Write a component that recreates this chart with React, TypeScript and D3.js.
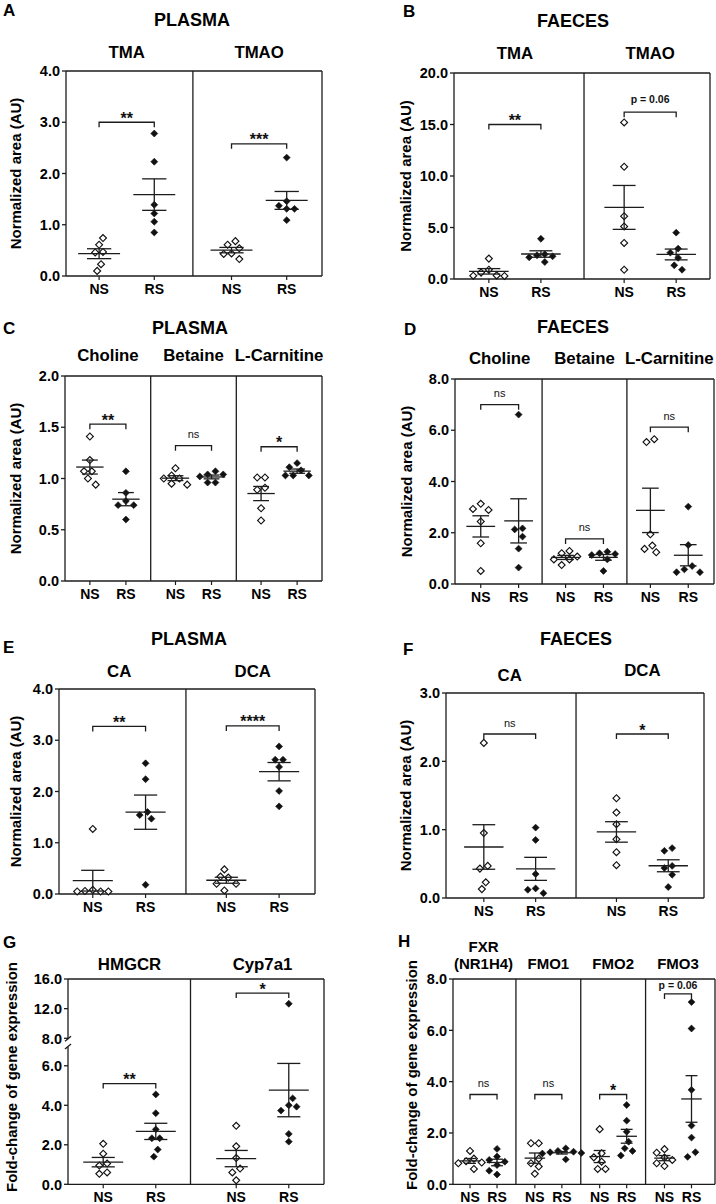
import React from "react";
import * as d3 from "d3";

const FONT = "'Liberation Sans', Arial, Helvetica, sans-serif";

// ---------- DATA ----------
// A: plasma TMA / TMAO
const A_TMA_NS = [0.74, 0.61, 0.47, 0.46, 0.23, 0.1];
const A_TMA_RS = [2.78, 2.23, 1.39, 1.22, 1.06, 0.85];
const A_TMAO_NS = [0.68, 0.61, 0.54, 0.44, 0.43, 0.33];
const A_TMAO_RS = [2.31, 1.46, 1.37, 1.31, 1.31, 1.09];
const A_BRACKETS = [3.0, 2.58];
const A_SIG = ["**", "***"];
const A_TICKS = [0, 1, 2, 3, 4];

// B: faeces TMA / TMAO
const B_TMA_NS = [1.98, 0.9, 0.62, 0.35, 0.3, 0.32];
const B_TMA_RS = [3.9, 2.4, 2.3, 2.2, 2.1, 1.65];
const B_TMAO_NS = [15.2, 10.9, 6.1, 5.1, 3.5, 0.9];
const B_TMAO_RS = [4.5, 2.95, 2.56, 2.05, 1.33, 0.9];
const B_BRACKETS = [15.0, 16.2];
const B_SIG = ["**", "p = 0.06"];
const B_TICKS = [0, 5, 10, 15, 20];

// C: plasma choline / betaine / L-carnitine
const C_CHOL_NS = [1.41, 1.18, 1.07, 1.07, 1.0, 0.94];
const C_CHOL_RS = [1.07, 0.86, 0.78, 0.74, 0.74, 0.6];
const C_BET_NS = [1.1, 1.03, 1.0, 1.0, 0.95, 0.94];
const C_BET_RS = [1.07, 1.04, 1.04, 1.02, 0.96, 0.96];
const C_CARN_NS = [1.01, 1.01, 0.91, 0.89, 0.71, 0.59];
const C_CARN_RS = [1.15, 1.11, 1.08, 1.03, 1.03, 1.03];
const C_BRACKETS = [1.53, 1.32, 1.31];
const C_SIG = ["**", "ns", "*"];
const C_TICKS = [0, 0.5, 1, 1.5, 2];

// D: faeces choline / betaine / L-carnitine
const D_CHOL_NS = [3.13, 2.93, 2.89, 2.44, 1.59, 0.51];
const D_CHOL_RS = [6.61, 2.17, 2.13, 1.85, 1.38, 0.64];
const D_BET_NS = [1.29, 1.2, 1.07, 0.96, 0.96, 0.74];
const D_BET_RS = [1.26, 1.2, 1.17, 1.13, 0.96, 0.51];
const D_CARN_NS = [5.65, 5.54, 1.94, 1.5, 1.37, 1.24];
const D_CARN_RS = [3.02, 1.52, 0.7, 0.57, 0.46, 0.46];
const D_BRACKETS = [7.0, 1.76, 6.12];
const D_SIG = ["ns", "ns", "ns"];
const D_TICKS = [0, 2, 4, 6, 8];

// E: plasma CA / DCA
const E_CA_NS = [1.27, 0.08, 0.06, 0.05, 0.05, 0.05];
const E_CA_RS = [2.55, 2.24, 1.6, 1.54, 1.47, 0.18];
const E_DCA_NS = [0.48, 0.34, 0.32, 0.2, 0.2, 0.07];
const E_DCA_RS = [2.88, 2.62, 2.62, 2.48, 2.01, 1.71];
const E_BRACKETS = [3.27, 3.28];
const E_SIG = ["**", "****"];
const E_TICKS = [0, 1, 2, 3, 4];

// F: faeces CA / DCA
const F_CA_NS = [2.27, 0.95, 0.47, 0.43, 0.23, 0.13];
const F_CA_RS = [1.03, 0.85, 0.35, 0.14, 0.12, 0.07];
const F_DCA_NS = [1.46, 1.25, 1.08, 0.86, 0.67, 0.48];
const F_DCA_RS = [0.73, 0.69, 0.47, 0.44, 0.34, 0.16];
const F_BRACKETS = [2.4, 2.4];
const F_SIG = ["ns", "*"];
const F_TICKS = [0, 1, 2, 3];

// G: gene expression HMGCR / Cyp7a1
const G_HMGCR_NS = [2.05, 1.55, 1.05, 0.95, 0.6, 0.53];
const G_HMGCR_RS = [4.55, 3.6, 2.78, 2.33, 2.33, 1.76, 1.4];
const G_CYP_NS = [2.96, 1.92, 1.33, 0.8, 0.6, 0.2];
const G_CYP_RS = [12.66, 4.35, 4.0, 3.93, 3.73, 2.55, 2.16];
const G_BRACKETS = [5.1, 14.1];
const G_SIG = ["**", "*"];
const G_TICKS = [0, 2, 4, 6, 8, 12, 16];

// H: gene expression FXR / FMO1 / FMO2 / FMO3
const H_FXR_NS = [1.3, 1.0, 0.9, 0.85, 0.82, 0.6];
const H_FXR_RS = [1.38, 1.08, 0.95, 0.88, 0.75, 0.53, 0.38];
const H_FMO1_NS = [1.6, 1.6, 1.0, 0.82, 0.69, 0.41];
const H_FMO1_RS = [1.4, 1.3, 1.27, 1.25, 1.22, 1.2, 0.97];
const H_FMO2_NS = [2.15, 1.21, 1.05, 0.88, 0.6, 0.6];
const H_FMO2_RS = [3.09, 2.48, 2.05, 1.66, 1.4, 1.3, 1.12];
const H_FMO3_NS = [1.37, 1.23, 1.04, 0.95, 0.82, 0.71];
const H_FMO3_RS = [7.1, 6.07, 3.68, 2.29, 1.82, 1.25, 1.07];
const H_BRACKETS = [3.5, 3.5, 3.5, 7.42];
const H_SIG = ["ns", "ns", "*", "p = 0.06"];
const H_TICKS = [0, 2, 4, 6, 8];

const GROUP_LABELS = ["NS", "RS"];

// ---------- TYPES ----------
type Group = { name: string[]; ns: number[]; rs: number[]; bracket: number; sig: string; nameDy?: number };
type PanelCfg = {
  letter: string; letterX: number; letterY: number;
  title?: string; titleX?: number; titleY?: number;
  left: number; right: number; top: number; bottom: number;
  padL: number; padR: number; gap: number; divShift?: number;
  yDomain: number[]; yBreak?: number[]; ticks: number[];
  ylabel: string; ylabelX: number; ylabelY?: number;
  subBase: number; subSize?: number; pDy?: number;
  groups: Group[];
};

const mk = (names: string[][], ns: number[][], rs: number[][], br: number[], sig: string[]): Group[] =>
  names.map((n, i) => ({ name: n, ns: ns[i], rs: rs[i], bracket: br[i], sig: sig[i] }));

const YL1 = "Normalized area (AU)";
const YL2 = "Fold-change of gene expression";

const panels: PanelCfg[] = [
  {
    letter: "A", letterX: 3, letterY: 16, title: "PLASMA", titleX: 192, titleY: 25.5,
    left: 66, right: 322, top: 71, bottom: 276, padL: 0.6, padR: 0.64, gap: 1.4,
    yDomain: [0, 4], ticks: A_TICKS, ylabel: YL1, ylabelX: 21, subBase: 57.5,
    groups: mk([["TMA"], ["TMAO"]], [A_TMA_NS, A_TMAO_NS], [A_TMA_RS, A_TMAO_RS], A_BRACKETS, A_SIG),
  },
  {
    letter: "B", letterX: 403, letterY: 17, title: "FAECES", titleX: 573, titleY: 26.5,
    left: 454, right: 710, top: 73, bottom: 279, padL: 0.67, padR: 0.65, gap: 1.6, divShift: 1.5,
    yDomain: [0, 20], ticks: B_TICKS, ylabel: YL1, ylabelX: 411, subBase: 59, pDy: -9,
    groups: mk([["TMA"], ["TMAO"]], [B_TMA_NS, B_TMAO_NS], [B_TMA_RS, B_TMAO_RS], B_BRACKETS, B_SIG),
  },
  {
    letter: "C", letterX: 3, letterY: 334, title: "PLASMA", titleX: 190, titleY: 333.5,
    left: 65, right: 322, top: 376, bottom: 581, padL: 0.69, padR: 0.69, gap: 1.375,
    yDomain: [0, 2], ticks: C_TICKS, ylabel: YL1, ylabelX: 21, subBase: 361,
    groups: mk([["Choline"], ["Betaine"], ["L-Carnitine"]], [C_CHOL_NS, C_BET_NS, C_CARN_NS], [C_CHOL_RS, C_BET_RS, C_CARN_RS], C_BRACKETS, C_SIG),
  },
  {
    letter: "D", letterX: 404, letterY: 335, title: "FAECES", titleX: 573, titleY: 332.5,
    left: 455, right: 714, top: 379, bottom: 584, padL: 0.68, padR: 0.68, gap: 1.24,
    yDomain: [0, 8], ticks: D_TICKS, ylabel: YL1, ylabelX: 412, subBase: 364,
    groups: mk([["Choline"], ["Betaine"], ["L-Carnitine"]], [D_CHOL_NS, D_BET_NS, D_CARN_NS], [D_CHOL_RS, D_BET_RS, D_CARN_RS], D_BRACKETS, D_SIG),
  },
  {
    letter: "E", letterX: 3, letterY: 653, title: "PLASMA", titleX: 189, titleY: 644.5,
    left: 59, right: 315, top: 689, bottom: 894, padL: 0.64, padR: 0.68, gap: 1.53,
    yDomain: [0, 4], ticks: E_TICKS, ylabel: YL1, ylabelX: 21, subBase: 676.5,
    groups: mk([["CA"], ["DCA"]], [E_CA_NS, E_DCA_NS], [E_CA_RS, E_DCA_RS], E_BRACKETS, E_SIG),
  },
  {
    letter: "F", letterX: 403, letterY: 655, title: "FAECES", titleX: 576, titleY: 644.5,
    left: 446, right: 704, top: 693, bottom: 898, padL: 0.73, padR: 0.69, gap: 1.56,
    yDomain: [0, 3], ticks: F_TICKS, ylabel: YL1, ylabelX: 411, subBase: 681,
    groups: mk([["CA"], ["DCA"]], [F_CA_NS, F_DCA_NS], [F_CA_RS, F_DCA_RS], F_BRACKETS, F_SIG).map((g, i) =>
      i === 1 ? { ...g, nameDy: -5 } : g),
  },
  {
    letter: "G", letterX: 3, letterY: 948,
    left: 68, right: 324, top: 979, bottom: 1184.3, padL: 0.67, padR: 0.67, gap: 1.53, divShift: -5.5,
    yDomain: [0, 6.9, 8, 16], yBreak: [1048, 1038.3], ticks: G_TICKS,
    ylabel: YL2, ylabelX: 17, ylabelY: 1077, subBase: 970,
    groups: mk([["HMGCR"], ["Cyp7a1"]], [G_HMGCR_NS, G_CYP_NS], [G_HMGCR_RS, G_CYP_RS], G_BRACKETS, G_SIG),
  },
  {
    letter: "H", letterX: 398, letterY: 947,
    left: 453, right: 715, top: 979, bottom: 1184.3, padL: 0.63, padR: 0.87, gap: 1.4,
    yDomain: [0, 8], ticks: H_TICKS, ylabel: YL2, ylabelX: 417, ylabelY: 1075,
    subBase: 968.5, subSize: 15, pDy: -4.5,
    groups: mk([["FXR", "(NR1H4)"], ["FMO1"], ["FMO2"], ["FMO3"]],
      [H_FXR_NS, H_FMO1_NS, H_FMO2_NS, H_FMO3_NS], [H_FXR_RS, H_FMO1_RS, H_FMO2_RS, H_FMO3_RS], H_BRACKETS, H_SIG),
  },
];

// ---------- HELPERS ----------
function jitter(ys: number[], h: number, thr: number): number[] {
  const order = ys.map((_, i) => i).sort((a, b) => ys[a] - ys[b]);
  const xs = new Array(ys.length).fill(0);
  const placed: number[] = [];
  for (const i of order) {
    const cands = [0];
    for (let k = 1; k < 14; k++) cands.push(-k * h, k * h);
    for (const c of cands) {
      let ok = true;
      for (const j of placed) {
        const dx = xs[j] - c, dy = ys[j] - ys[i];
        if (dx * dx + dy * dy < thr * thr) { ok = false; break; }
      }
      if (ok) { xs[i] = c; break; }
    }
    placed.push(i);
  }
  const comp = new Array(ys.length).fill(-1);
  let cid = 0;
  for (const i of order) {
    if (comp[i] >= 0) continue;
    const stack = [i];
    comp[i] = cid;
    while (stack.length) {
      const a = stack.pop()!;
      for (let b = 0; b < ys.length; b++)
        if (comp[b] < 0 && Math.abs(ys[b] - ys[a]) < thr) { comp[b] = cid; stack.push(b); }
    }
    cid++;
  }
  for (let c = 0; c < cid; c++) {
    const mem = xs.map((_, i) => i).filter((i) => comp[i] === c);
    const mn = d3.min(mem, (i) => xs[i])!, mx = d3.max(mem, (i) => xs[i])!;
    const shift = (mn + mx) / 2;
    mem.forEach((i) => (xs[i] -= shift));
  }
  return xs;
}

const INK = "#111";
const LINE = "#1c1c1c";
const fmt = d3.format(".1f");
const markerPath = d3.symbol(d3.symbolSquare, 24)()!;

function Panel({ p }: { p: PanelCfg }) {
  const n = p.groups.length;
  const x = d3.scaleLinear().domain([-p.padL, (n - 1) * (1 + p.gap) + 1 + p.padR]).range([p.left, p.right]);
  const yRange = p.yBreak ? [p.bottom, p.yBreak[0], p.yBreak[1], p.top] : [p.bottom, p.top];
  const y = d3.scaleLinear().domain(p.yDomain).range(yRange);
  const spacing = x(1) - x(0);
  const meanHalf = spacing * 0.38;
  const semHalf = spacing * 0.22;
  const ylY = p.ylabelY ?? (p.top + p.bottom) / 2;
  const subSize = p.subSize ?? 16.8;

  const elems: React.ReactNode[] = [];

  p.groups.forEach((g, gi) => {
    const base = gi * (1 + p.gap);
    const cx = (x(base) + x(base + 1)) / 2;
    g.name.forEach((line, li) => {
      elems.push(
        <text key={`sub${gi}-${li}`} x={cx} y={p.subBase + (g.nameDy ?? 0) - (g.name.length - 1 - li) * 17}
          textAnchor="middle" fontSize={subSize} fontWeight="bold" fill="#000">{line}</text>
      );
    });
    [g.ns, g.rs].forEach((vals, k) => {
      const gx = x(base + k);
      const ys = vals.map((v) => y(v));
      const jx = jitter(ys, 3.9, 7.5);
      vals.forEach((v, i) => {
        elems.push(
          <path key={`pt${gi}-${k}-${i}`} d={markerPath}
            transform={`translate(${gx + jx[i]},${ys[i]}) rotate(45)`}
            fill={k === 0 ? "#fff" : INK} stroke={INK} strokeWidth={k === 0 ? 1.15 : 0.6} />
        );
      });
      const m = d3.mean(vals)!;
      const sem = d3.deviation(vals)! / Math.sqrt(vals.length);
      elems.push(
        <g key={`ms${gi}-${k}`} stroke={LINE} strokeWidth={1.3} fill="none">
          <line x1={gx - meanHalf} x2={gx + meanHalf} y1={y(m)} y2={y(m)} />
          <line x1={gx} x2={gx} y1={y(m - sem)} y2={y(m + sem)} />
          <line x1={gx - semHalf} x2={gx + semHalf} y1={y(m + sem)} y2={y(m + sem)} />
          <line x1={gx - semHalf} x2={gx + semHalf} y1={y(m - sem)} y2={y(m - sem)} />
        </g>
      );
      elems.push(
        <line key={`xt${gi}-${k}`} x1={gx} x2={gx} y1={p.bottom} y2={p.bottom + 4} stroke={LINE} strokeWidth={1.2} />
      );
      elems.push(
        <text key={`xl${gi}-${k}`} x={gx} y={p.bottom + 17.5} textAnchor="middle" fontSize={14} fontWeight="bold" fill="#000">
          {GROUP_LABELS[k]}
        </text>
      );
    });
    const bx1 = x(base), bx2 = x(base + 1), by = y(g.bracket);
    elems.push(
      <path key={`br${gi}`} d={`M${bx1},${by + 5}V${by}H${bx2}V${by + 5}`} stroke={LINE} strokeWidth={1.3} fill="none" />
    );
    const sigX = (bx1 + bx2) / 2;
    if (g.sig.startsWith("*")) {
      elems.push(<text key={`sg${gi}`} x={sigX} y={by + 1.5} textAnchor="middle" fontSize={16} fontWeight="bold" fill="#111">{g.sig}</text>);
    } else if (g.sig === "ns") {
      elems.push(<text key={`sg${gi}`} x={sigX} y={by - 7.5} textAnchor="middle" fontSize={11} fill="#111">{g.sig}</text>);
    } else {
      elems.push(<text key={`sg${gi}`} x={sigX} y={by + (p.pDy ?? -8)} textAnchor="middle" fontSize={10.5} fontWeight="bold" fill="#111">{g.sig}</text>);
    }
    if (gi < n - 1) {
      const dx = x(base + 1 + p.gap / 2) + (p.divShift ?? 0);
      elems.push(<line key={`dv${gi}`} x1={dx} x2={dx} y1={p.top} y2={p.bottom} stroke={LINE} strokeWidth={1.3} />);
    }
  });

  return (
    <g fontFamily={FONT}>
      <text x={p.letterX} y={p.letterY} fontSize={17} fontWeight="bold" fill="#000">{p.letter}</text>
      {p.title && (
        <text x={p.titleX} y={p.titleY} textAnchor="middle" fontSize={18} fontWeight="bold" fill="#000">{p.title}</text>
      )}
      <text transform={`translate(${p.ylabelX},${ylY}) rotate(-90)`} textAnchor="middle" fontSize={15} fontWeight="bold" fill="#000">
        {p.ylabel}
      </text>
      <g stroke={LINE} strokeWidth={1.3} fill="none">
        <line x1={p.left} x2={p.right} y1={p.top} y2={p.top} />
        <line x1={p.right} x2={p.right} y1={p.top} y2={p.bottom} />
        <line x1={p.left} x2={p.right} y1={p.bottom} y2={p.bottom} />
        {p.yBreak ? (
          <>
            <line x1={p.left} x2={p.left} y1={p.top} y2={p.yBreak[1] + 1} />
            <line x1={p.left} x2={p.left} y1={p.yBreak[0] - 1} y2={p.bottom} />
            <line x1={p.left - 3} x2={p.left + 3} y1={p.yBreak[1] + 3} y2={p.yBreak[1] - 2} />
            <line x1={p.left - 3} x2={p.left + 3} y1={p.yBreak[0] + 1} y2={p.yBreak[0] - 4} />
          </>
        ) : (
          <line x1={p.left} x2={p.left} y1={p.top} y2={p.bottom} />
        )}
      </g>
      {p.ticks.map((t) => (
        <g key={`yt${t}`}>
          <line x1={p.left - 4} x2={p.left} y1={y(t)} y2={y(t)} stroke={LINE} strokeWidth={1.3} />
          <text x={p.left - 6} y={y(t)} dy="0.36em" textAnchor="end" fontSize={14.5} fontWeight="bold" fill="#000">{fmt(t)}</text>
        </g>
      ))}
      {elems}
    </g>
  );
}

export default function App() {
  return (
    <svg width={716} height={1204} viewBox="0 0 716 1204"
      style={{ position: "absolute", left: 0, top: 0, background: "#fff", display: "block" }}>
      <rect x={0} y={0} width={716} height={1204} fill="#fff" />
      {panels.map((p) => (
        <Panel key={p.letter} p={p} />
      ))}
    </svg>
  );
}
